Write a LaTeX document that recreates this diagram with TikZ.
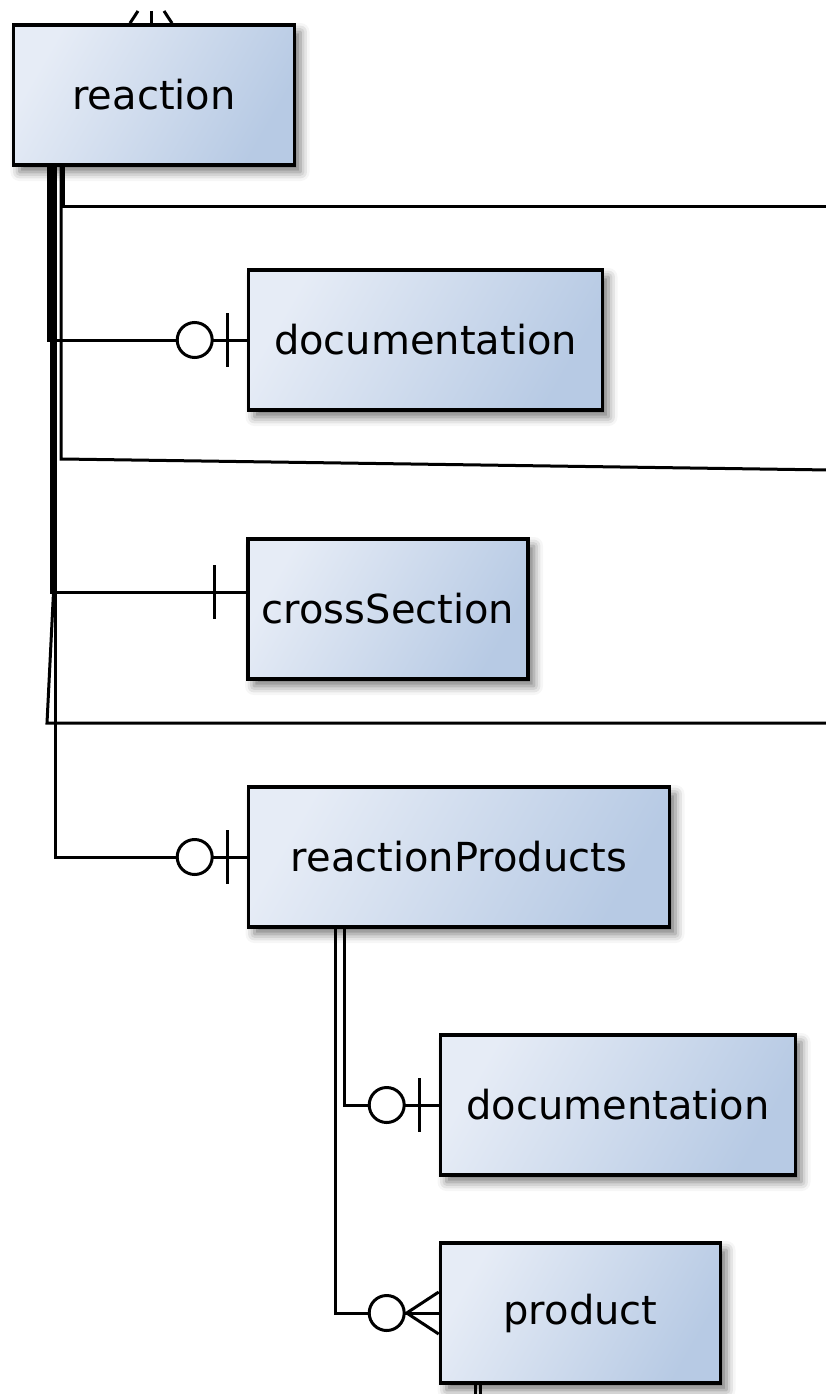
\documentclass[tikz,border=0pt]{standalone}
\usepackage{fontspec}
\setmainfont{DejaVu Sans}
\usetikzlibrary{shadows.blur}
\definecolor{boxlight}{HTML}{E6ECF6}
\definecolor{boxdark}{HTML}{B7CAE4}
\tikzset{
  zeroone/.pic={\draw[fill=white] (-52pt,0) circle (17.5pt); \draw (-19pt,27pt) -- (-19pt,-27pt);},
  onlyone/.pic={\draw (-32pt,27pt) -- (-32pt,-27pt);},
  zeromany/.pic={\draw (-32pt,0) -- (0,21pt) (-32pt,0) -- (0,-21pt); \draw[fill=white] (-52pt,0) circle (17.5pt);}
}
\begin{document}
\begin{tikzpicture}[x=1pt,y=-1pt,line width=3pt,
  entity/.style={draw,line width=3.6pt,minimum height=140pt,inner sep=0pt,
    left color=boxlight,right color=boxdark,shading angle=60,
    blur shadow={shadow xshift=6pt,shadow yshift=-7pt,shadow blur radius=9pt,shadow opacity=55},
    font=\fontsize{40}{48}\selectfont}]
\useasboundingbox (0,0) rectangle (826,1394);
\clip (0,0) rectangle (826,1394);

\node[entity,minimum width=281pt] (reaction) at (154,95) {reaction};
\node[entity,minimum width=354pt] (documentation) at (425.5,340) {documentation};
\node[entity,minimum width=280pt] (crossSection) at (388,609) {crossSection};
\node[entity,minimum width=421pt] (reactionProducts) at (459,857) {reactionProducts};
\node[entity,minimum width=355pt] (productDoc) at (618,1105) {documentation};
\node[entity,minimum width=280pt] (product) at (580.5,1313) {product};

\coordinate (up) at (151,11);
\coordinate (edgeA) at (830,206);
\coordinate (bendB) at (62,459);
\coordinate (edgeB) at (830,470);
\coordinate (kinkC) at (53.5,592);
\coordinate (bendC) at (47,723);
\coordinate (edgeC) at (830,723);
\coordinate (downA) at (475,1400);
\coordinate (downB) at (480,1400);

\draw (up) -- ([xshift=-3pt]reaction.north);
\draw ([xshift=-13pt]up) -- ([xshift=-24pt]reaction.north);
\draw ([xshift=13pt]up) -- ([xshift=18pt]reaction.north);

\draw ([xshift=37pt]reaction.south west) |- (documentation.west);
\draw ([xshift=39.5pt]reaction.south west) |- ([yshift=17pt]crossSection.west);
\draw ([xshift=42pt]reaction.south west) -- (kinkC) -- (bendC) -- (edgeC);
\draw ([xshift=44pt]reaction.south west) |- (reactionProducts.west);
\draw ([xshift=49.5pt]reaction.south west) |- (bendB) -- (edgeB);
\draw ([xshift=51.5pt]reaction.south west) |- (edgeA);
\pic at (documentation.west) {zeroone};
\pic at ([yshift=17pt]crossSection.west) {onlyone};
\pic at (reactionProducts.west) {zeroone};

\draw ([xshift=-115pt]reactionProducts.south) |- (productDoc.west);
\draw ([xshift=-124pt]reactionProducts.south) |- (product.west);
\pic at (productDoc.west) {zeroone};
\pic at (product.west) {zeromany};

\draw ([xshift=-105.5pt]product.south) -- (downA);
\draw ([xshift=-100.5pt]product.south) -- (downB);
\end{tikzpicture}
\end{document}
